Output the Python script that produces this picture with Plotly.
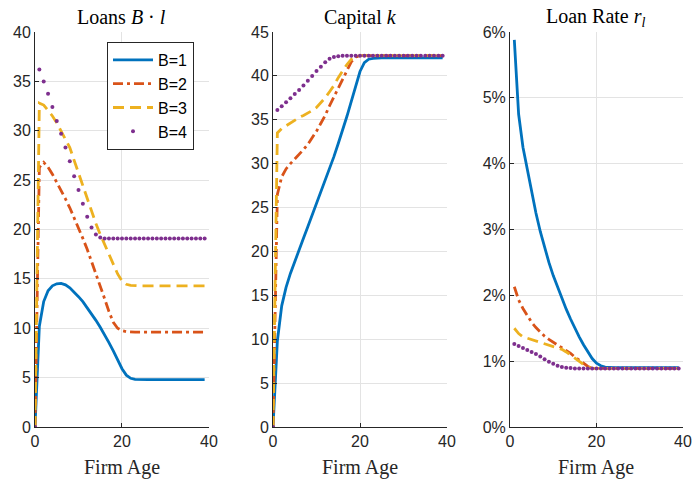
import plotly.graph_objects as go

age = list(range(0, 40))
age_rate = list(range(1, 40))
series_names = ["B=1", "B=2", "B=3", "B=4"]

loans_b1 = [0, 10.2, 12.7, 13.8, 14.3, 14.5, 14.55, 14.4, 14.1, 13.7, 13.2, 12.7, 12.1, 11.5, 10.8,
            10.1, 9.35, 8.55, 7.7, 6.8, 5.9, 5.25, 4.93, 4.83] + [4.8] * 16
loans_b2 = [0, 26.3, 26.8, 26.3, 25.6, 24.8, 24.0, 23.1, 22.2, 21.2, 20.2, 19.1, 18.0, 16.8, 15.6,
            14.3, 13.0, 11.7, 10.6, 10.0, 9.75, 9.65] + [9.6] * 18
loans_b3 = [0, 32.8, 32.6, 32.1, 31.5, 30.8, 30.0, 29.2, 28.3, 27.0, 25.7, 24.4, 23.0, 21.7, 20.6,
            19.5, 18.5, 17.5, 16.5, 15.5, 14.8, 14.45, 14.35] + [14.3] * 17
loans_b4 = [0, 36.2, 35.0, 33.75, 32.4, 31.0, 29.7, 28.3, 26.9, 25.4, 24.0, 22.6, 21.3, 20.2, 19.5,
            19.2] + [19.1] * 24

capital_b1 = [0, 9.8, 13.8, 15.9, 17.5, 18.9, 20.2, 21.5, 22.8, 24.1, 25.4, 26.7, 28.0, 29.4, 30.8,
              32.3, 33.8, 35.4, 37.1, 38.9, 40.5, 41.5, 41.9, 42.0] + [42.05] * 16
capital_b2 = [0, 26.5, 28.5, 29.4, 30.0, 30.5, 31.0, 31.6, 32.2, 32.9, 33.7, 34.6, 35.5, 36.6, 37.6,
              38.7, 39.7, 40.7, 41.6, 42.15] + [42.3] * 20
capital_b3 = [0, 33.5, 34.0, 34.3, 34.6, 35.0, 35.25, 35.5, 35.75, 36.05, 36.4, 36.9, 37.5, 38.2, 38.9,
              39.8, 40.6, 41.3, 41.9, 42.2] + [42.3] * 20
capital_b4 = [0, 36.1, 36.55, 37.0, 37.45, 37.95, 38.4, 38.9, 39.45, 40.0, 40.55, 41.05, 41.55, 41.95,
              42.15, 42.25] + [42.3] * 24

rate_b1 = [5.88, 4.75, 4.25, 3.9, 3.55, 3.25, 2.97, 2.72, 2.5, 2.3, 2.12, 1.95, 1.79, 1.64, 1.5,
           1.37, 1.25, 1.14, 1.04, 0.97, 0.93, 0.91] + [0.9] * 17
rate_b2 = [2.13, 1.93, 1.80, 1.69, 1.59, 1.51, 1.44, 1.38, 1.33, 1.29, 1.25, 1.21, 1.16, 1.12, 1.06,
           1.02, 0.97, 0.92] + [0.89] * 21
rate_b3 = [1.50, 1.42, 1.37, 1.35, 1.33, 1.31, 1.29, 1.27, 1.25, 1.23, 1.21, 1.18, 1.14, 1.09, 1.04,
           1.0, 0.95, 0.91] + [0.89] * 21
rate_b4 = [1.26, 1.23, 1.20, 1.17, 1.14, 1.11, 1.07, 1.03, 0.99, 0.96, 0.93, 0.91, 0.90, 0.895] + [0.89] * 25

x_ticks = [0, 20, 40]
loans_ticks = [0, 5, 10, 15, 20, 25, 30, 35, 40]
capital_ticks = [0, 5, 10, 15, 20, 25, 30, 35, 40, 45]
rate_ticks = [0, 1, 2, 3, 4, 5, 6]
rate_tick_labels = ["0%", "1%", "2%", "3%", "4%", "5%", "6%"]

titles = ["Loans <i>B</i> · <i>l</i>", "Capital <i>k</i>", "Loan Rate <i>r<sub>l</sub></i>"]

colors = ["#0072BD", "#D95319", "#EDB120", "#7E2F8E"]
LW = 2.8
styles = [
    dict(mode="lines", line=dict(color=colors[0], width=LW)),
    dict(mode="lines", line=dict(color=colors[1], width=LW, dash="10px,4px,3px,4px")),
    dict(mode="lines", line=dict(color=colors[2], width=LW, dash="11px,6px")),
    dict(mode="markers", marker=dict(color=colors[3], size=4)),
]

fig = go.Figure()

panels = [
    ("x", "y", age, [loans_b1, loans_b2, loans_b3, loans_b4]),
    ("x2", "y2", age, [capital_b1, capital_b2, capital_b3, capital_b4]),
    ("x3", "y3", age_rate, [rate_b1, rate_b2, rate_b3, rate_b4]),
]
for p, (xa, ya, xs, ser) in enumerate(panels):
    for i, ys in enumerate(ser):
        fig.add_trace(go.Scatter(x=xs, y=ys, xaxis=xa, yaxis=ya, name=series_names[i],
                                 showlegend=(p == 0), **styles[i]))

axis_common = dict(showline=True, linecolor="#262626", linewidth=1, mirror=False,
                   showgrid=True, gridcolor="#e3e3e3", gridwidth=1, zeroline=False,
                   ticks="inside", ticklen=4, tickcolor="#262626", automargin=False,
                   tickfont=dict(family="Liberation Sans, Arial", size=16, color="#262626"))

domains = [[0, 0.2685], [0.3673, 0.6358], [0.733, 1.0]]
L, R, T, B = 35, 11, 32, 52
W, H = 694, 479
pw = W - L - R
ph = H - T - B

layout = dict(
    width=W, height=H,
    margin=dict(l=L, r=R, t=T, b=B, pad=0, autoexpand=False),
    paper_bgcolor="white", plot_bgcolor="white",
    font=dict(family="Liberation Sans, Arial", color="#262626"),
    legend=dict(x=(107 - L) / pw, y=(H - B - 42) / ph, xanchor="left", yanchor="top",
                bordercolor="#262626", borderwidth=1, bgcolor="white",
                font=dict(family="Liberation Sans, Arial", size=16, color="#000000"),
                tracegroupgap=0, itemwidth=40),
)
yinfo = [(loans_ticks, [0, 40], None), (capital_ticks, [0, 45], None), (rate_ticks, [0, 6], rate_tick_labels)]
for k in range(3):
    sfx = "" if k == 0 else str(k + 1)
    layout["xaxis" + sfx] = dict(axis_common, domain=domains[k], range=[0, 40], tickvals=x_ticks,
                                 anchor="y" + sfx)
    ya = dict(axis_common, domain=[0, 1], range=yinfo[k][1], tickvals=yinfo[k][0], anchor="x" + sfx)
    if yinfo[k][2]:
        ya["ticktext"] = yinfo[k][2]
    layout["yaxis" + sfx] = ya
fig.update_layout(**layout)

for k in range(3):
    cx = (domains[k][0] + domains[k][1]) / 2
    fig.add_annotation(x=cx, y=1 + 15 / ph, xref="paper", yref="paper", text=titles[k],
                       showarrow=False, xanchor="center", yanchor="middle",
                       font=dict(family="Liberation Serif, Times New Roman, serif", size=20, color="#000000"))
    fig.add_annotation(x=cx, y=-40 / ph, xref="paper", yref="paper", text="Firm Age",
                       showarrow=False, xanchor="center", yanchor="middle",
                       font=dict(family="Liberation Serif, Times New Roman, serif", size=20, color="#262626"))

fig.write_html("out.html", config={"displayModeBar": False},
               post_script="document.body.style.margin='0';document.body.style.padding='0';")
